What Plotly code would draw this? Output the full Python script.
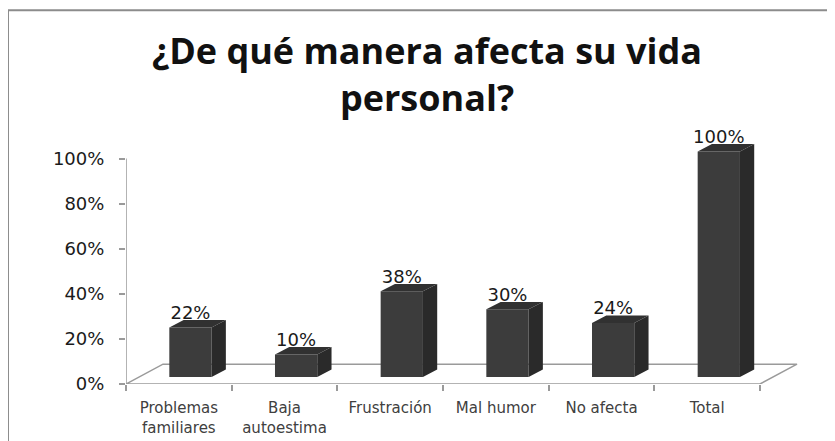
import plotly.graph_objects as go

# data
categories = ["Problemas<br>familiares", "Baja<br>autoestima", "Frustración",
              "Mal humor", "No afecta", "Total"]
values = [0.22, 0.10, 0.38, 0.30, 0.24, 1.00]
y_ticks = [0, 0.2, 0.4, 0.6, 0.8, 1.0]

# 3d look (in axis units)
BAR_W = 0.40
BAR_OFF = -0.09
BAR_BASE = 0.031
DEPTH_X = 0.135
DEPTH_Y = 0.033
FLOOR_X = 0.35
FLOOR_Y = 0.088
LABEL_PAD = -0.015

FRONT = "#3c3c3c"
SIDE = "#2a2a2a"
TOP = "#313131"
AXIS = "#9a9a9a"

n = len(categories)
idx = list(range(n))

fig = go.Figure()

# front faces
fig.add_trace(go.Bar(
    x=idx, y=values, base=BAR_BASE, width=BAR_W, offset=BAR_OFF,
    marker=dict(color=FRONT, line=dict(width=0)), hoverinfo="skip"
))

# side + top faces
side_x, side_y, top_x, top_y = [], [], [], []
for i, v in zip(idx, values):
    x0 = i + BAR_OFF
    x1 = x0 + BAR_W
    y0 = BAR_BASE
    y1 = BAR_BASE + v
    side_x += [x1, x1 + DEPTH_X, x1 + DEPTH_X, x1, x1, None]
    side_y += [y0, y0 + DEPTH_Y, y1 + DEPTH_Y, y1, y0, None]
    top_x += [x0, x0 + DEPTH_X, x1 + DEPTH_X, x1, x0, None]
    top_y += [y1, y1 + DEPTH_Y, y1 + DEPTH_Y, y1, y1, None]

fig.add_trace(go.Scatter(x=side_x, y=side_y, mode="lines", fill="toself",
                         fillcolor=SIDE, line=dict(width=0, color=SIDE),
                         hoverinfo="skip"))
fig.add_trace(go.Scatter(x=top_x, y=top_y, mode="lines", fill="toself",
                         fillcolor=TOP, line=dict(width=0, color=TOP),
                         hoverinfo="skip"))

# value labels
fig.add_trace(go.Scatter(
    x=[i + BAR_OFF + BAR_W / 2 for i in idx],
    y=[BAR_BASE + v + DEPTH_Y + LABEL_PAD for v in values],
    mode="text", text=[f"{v:.0%}" for v in values],
    textposition="top center", cliponaxis=False,
    textfont=dict(family="DejaVu Sans", size=18, color="#1a1a1a"),
    hoverinfo="skip"
))

# floor + axis lines
left, right = -0.5, n - 0.5
floor = (f"M {left},0 L {left + FLOOR_X},{FLOOR_Y} L {right + FLOOR_X},{FLOOR_Y} "
         f"L {right},0 Z")
shapes = [
    dict(type="path", path=floor, xref="x", yref="y", layer="below",
         line=dict(color=AXIS, width=1.5)),
    dict(type="line", x0=left, x1=left, y0=0, y1=1, xref="x", yref="y",
         line=dict(color=AXIS, width=1.5)),
    # chart frame (top and left edges visible)
    dict(type="path", xref="paper", yref="paper",
         path="M -0.1751,-0.3 L -0.1751,1.3897 L 1.2,1.3897",
         line=dict(color="#8c8c8c", width=2)),
]

fig.update_layout(
    width=835, height=441,
    margin=dict(l=118, r=43, t=107, b=62),
    paper_bgcolor="white", plot_bgcolor="white",
    showlegend=False,
    shapes=shapes,
    title=dict(text="<b>¿De qué manera afecta su vida<br>personal?</b>",
               x=419 / 835, xanchor="center", xref="container",
               y=1 - 56 / 441, yanchor="top", yref="container",
               font=dict(family="Open Sans", size=36, color="#111111")),
    xaxis=dict(range=[-0.5, -0.5 + 674 / 105.67], showgrid=False, zeroline=False,
               showline=False, tickmode="array", tickvals=idx, ticktext=categories,
               ticks="", ticklabelstandoff=13,
               tickfont=dict(family="DejaVu Sans", size=15, color="#404040"),
               minor=dict(tickmode="array", tickvals=[i - 0.5 for i in range(n + 1)],
                          ticks="outside", ticklen=6, tickcolor=AXIS, tickwidth=1.5)),
    yaxis=dict(range=[0, 272 / 228], showgrid=False, zeroline=False, showline=False,
               tickmode="array", tickvals=y_ticks, tickformat=".0%",
               ticks="outside", ticklen=6, tickcolor=AXIS, tickwidth=1.5,
               ticklabelstandoff=11,
               tickfont=dict(family="DejaVu Sans", size=18, color="#1a1a1a")),
)

fig.write_html("out.html")
